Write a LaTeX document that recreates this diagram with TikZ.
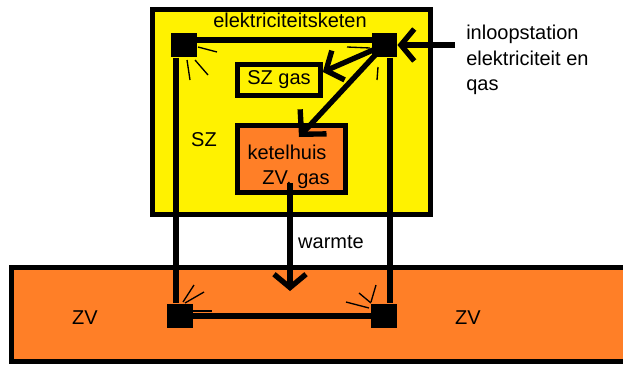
\documentclass[tikz,border=0pt]{standalone}
\usepackage{fontspec}
\setmainfont{Liberation Sans}
\usetikzlibrary{positioning,arrows.meta}
\definecolor{szgeel}{RGB}{255,242,0}
\definecolor{zvoranje}{RGB}{255,127,39}

\begin{document}
\begin{tikzpicture}[x=0.75pt, y=-0.75pt, font=\fontsize{15}{19}\selectfont,
  wand/.style={draw=black, line width=3.75pt},
  kastje/.style={fill=black, minimum width=19pt, minimum height=18.5pt, inner sep=0pt},
  draad/.style={line width=4.2pt},
  pijl/.style={line width=4pt, -{Straight Barb[length=10pt,width=24pt]}},
  grotepijl/.style={line width=4pt, -{Straight Barb[length=13pt,width=27pt]}},
  straal/.style={line width=1pt},
  tekst/.style={inner sep=0pt}]
\clip (0,0) rectangle (623,364);
% zones
\draw[wand, fill=zvoranje] (11,267) rectangle (640,361);
\draw[wand, fill=szgeel] (152,9) rectangle (430,214);
\node[tekst] (keten) at (290,20) {elektriciteitsketen};
\node[tekst] (sz) at (204,140) {SZ};
\node[tekst] (zvlinks) at (85,318) {ZV};
\node[tekst] (zvrechts) at (468,318) {ZV};
% gebouwen
\node[wand, fill=szgeel, minimum width=62pt, minimum height=23pt, inner sep=0pt] (szgas) at (279,80) {SZ gas};
\node[wand, fill=zvoranje, minimum width=81pt, minimum height=50pt] (kh) at (291.5,159) {};
\node[tekst] (ketelhuis) at (287,152) {ketelhuis};
\node[tekst] (zvgas) at (296,180) {ZV, gas};
% kastjes
\node[kastje] (tl) at (184,45) {};
\node[kastje] (tr) at (384.5,45) {};
\node[kastje] (bl) at (180,316) {};
\node[kastje] (br) at (384,316) {};
% kabels
\coordinate (lv) at (176,0);
\coordinate (rv) at (390,0);
\coordinate (hw) at (0,40);
\draw[draad] (tl.east |- hw) -- (tr.west |- hw);
\draw[draad] (tl.south -| lv) -- (bl.north -| lv);
\draw[draad] (tr.south -| rv) -- (br.north -| rv);
\draw[draad] (bl) -- (br);
% stromen
\coordinate (inloop-in) at (455,45);
\coordinate (kh-in) at (299,137);
\coordinate (kh-uit) at (290,183);
\coordinate (warmte-in) at (290,291);
\draw[pijl] (inloop-in) -- (tr.east);
\draw[pijl] (tr.center) -- ([yshift=6pt]szgas.east);
\draw[grotepijl] (tr.center) -- (kh-in);
\draw[pijl] (kh-uit) -- (warmte-in);
\node[tekst] (warmte) at (331,242) {warmte};
\node[tekst, anchor=west, align=left] (inloopstation) at (466,60) {inloopstation\\elektriciteit en\\qas};
% stralen
\foreach \dx/\dy/\ex/\ey in {14/2/19/5, 11/15/13/15, 3/15/3/20}
  \draw[straal] ([shift={(\dx,\dy)}]tl.center) -- ++(\ex,\ey);
\foreach \dx/\dy/\ex/\ey in {-14.5/3/-23/-1, -6.5/22/-1/13}
  \draw[straal] ([shift={(\dx,\dy)}]tr.center) -- ++(\ex,\ey);
\foreach \dx/\dy/\ex/\ey in {3/-14/11/-17, 5/-13/19/-11, 12/-5/20/0}
  \draw[straal] ([shift={(\dx,\dy)}]bl.center) -- ++(\ex,\ey);
\foreach \dx/\dy/\ex/\ey in {-13/-14/5/-17, -13/-13/-12/-10, -15/-8/-23/-6}
  \draw[straal] ([shift={(\dx,\dy)}]br.center) -- ++(\ex,\ey);
\end{tikzpicture}
\end{document}
